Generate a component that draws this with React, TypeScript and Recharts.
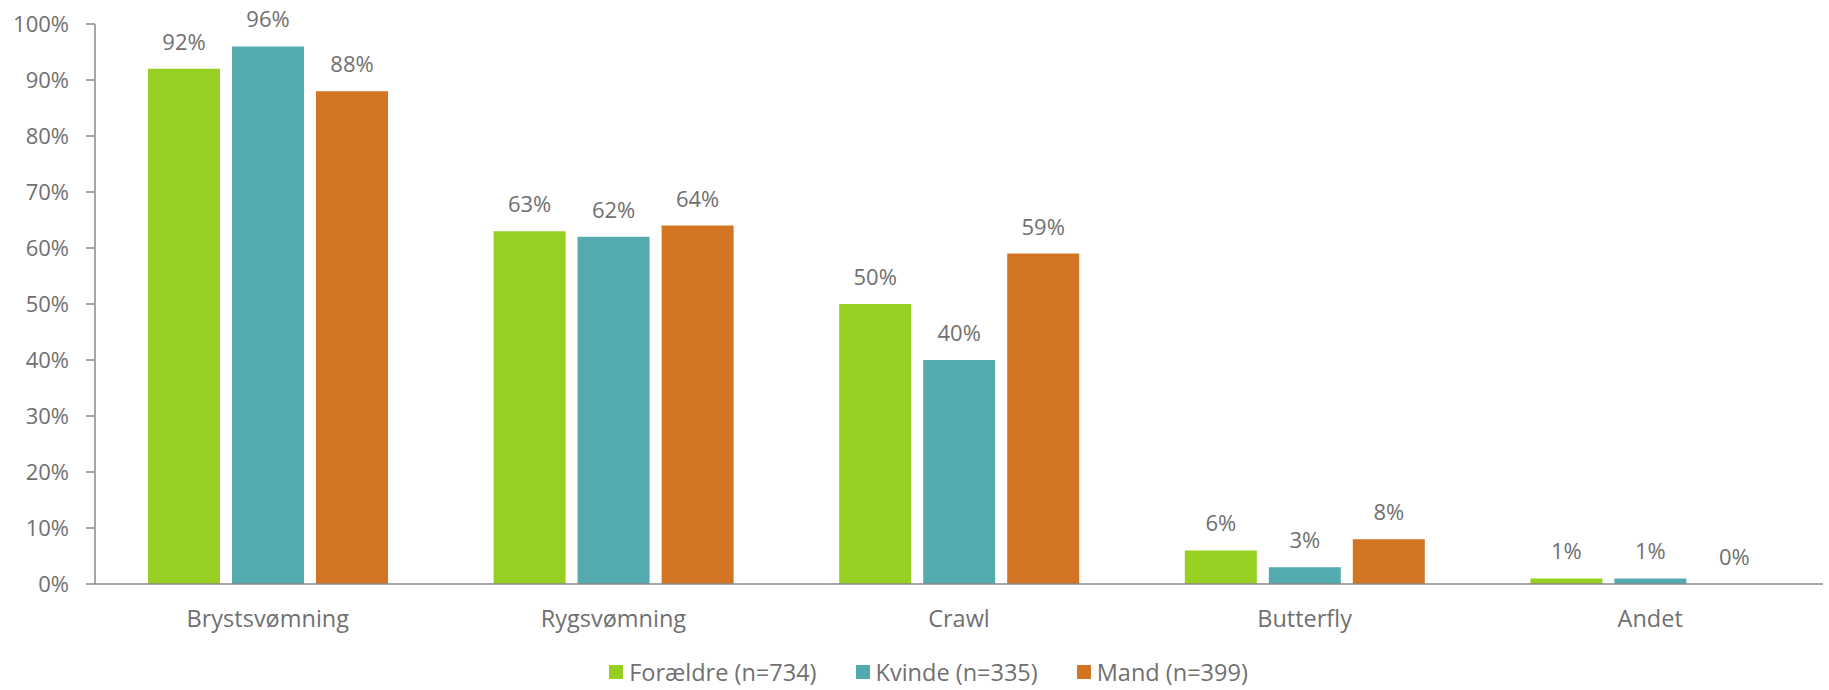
import { BarChart, Bar, XAxis, YAxis, Legend, LabelList } from "recharts";

const categories = ["Brystsvømning", "Rygsvømning", "Crawl", "Butterfly", "Andet"];
const foraeldre = [92, 63, 50, 6, 1];
const kvinde = [96, 62, 40, 3, 1];
const mand = [88, 64, 59, 8, 0];
const yTicks = [0, 10, 20, 30, 40, 50, 60, 70, 80, 90, 100];

const series = [
  { key: "foraeldre", name: "Forældre (n=734)", color: "#97d022" },
  { key: "kvinde", name: "Kvinde (n=335)", color: "#53abb0" },
  { key: "mand", name: "Mand (n=399)", color: "#d37423" },
];

const data = categories.map((c, i) => ({
  name: c,
  foraeldre: foraeldre[i],
  kvinde: kvinde[i],
  mand: mand[i],
}));

const FONT = "'Open Sans', sans-serif";
const TEXT = "#707070";
const AXIS = "#888888";

function LegendContent() {
  return (
    <div
      style={{
        height: 36,
        display: "flex",
        justifyContent: "center",
        alignItems: "center",
        paddingLeft: 34,
        fontFamily: FONT,
        fontSize: 23.5,
        color: TEXT,
      }}
    >
      {series.map((s, i) => (
        <div
          key={s.key}
          style={{ display: "flex", alignItems: "center", marginRight: i < series.length - 1 ? 39 : 0 }}
        >
          <span style={{ width: 14, height: 14, background: s.color, marginRight: 6, display: "inline-block" }} />
          <span>{s.name}</span>
        </div>
      ))}
    </div>
  );
}

export default function App() {
  return (
    <div style={{ position: "absolute", left: 0, top: 0, background: "#fff" }}>
      <BarChart
        width={1829}
        height={690}
        data={data}
        margin={{ top: 24, right: 6, left: 0, bottom: 0 }}
        barCategoryGap={53}
        barGap={12}
      >
        <XAxis
          dataKey="name"
          height={70}
          tick={{ fontSize: 23.5, fill: TEXT, fontFamily: FONT }}
          axisLine={{ stroke: AXIS, strokeWidth: 1.5 }}
          tickLine={false}
          tickMargin={20}
        />
        <YAxis
          domain={[0, 100]}
          ticks={yTicks}
          width={95}
          tick={{ fontSize: 22, fill: TEXT, fontFamily: FONT }}
          axisLine={{ stroke: AXIS, strokeWidth: 1.5 }}
          tickLine={{ stroke: AXIS, strokeWidth: 1.5 }}
          tickSize={9}
          tickMargin={17}
          tickFormatter={(v: number) => `${v}%`}
        />
        <Legend verticalAlign="bottom" content={() => <LegendContent />} />
        {series.map((s) => (
          <Bar
            key={s.key}
            dataKey={s.key}
            name={s.name}
            fill={s.color}
            minPointSize={(v: number) => (v === 0 ? 0.01 : 0)}
            isAnimationActive={false}
          >
            <LabelList
              dataKey={s.key}
              position="top"
              offset={19}
              formatter={(v: any) => `${v}%`}
              style={{ fontSize: 22, fill: TEXT, fontFamily: FONT }}
            />
          </Bar>
        ))}
      </BarChart>
    </div>
  );
}
